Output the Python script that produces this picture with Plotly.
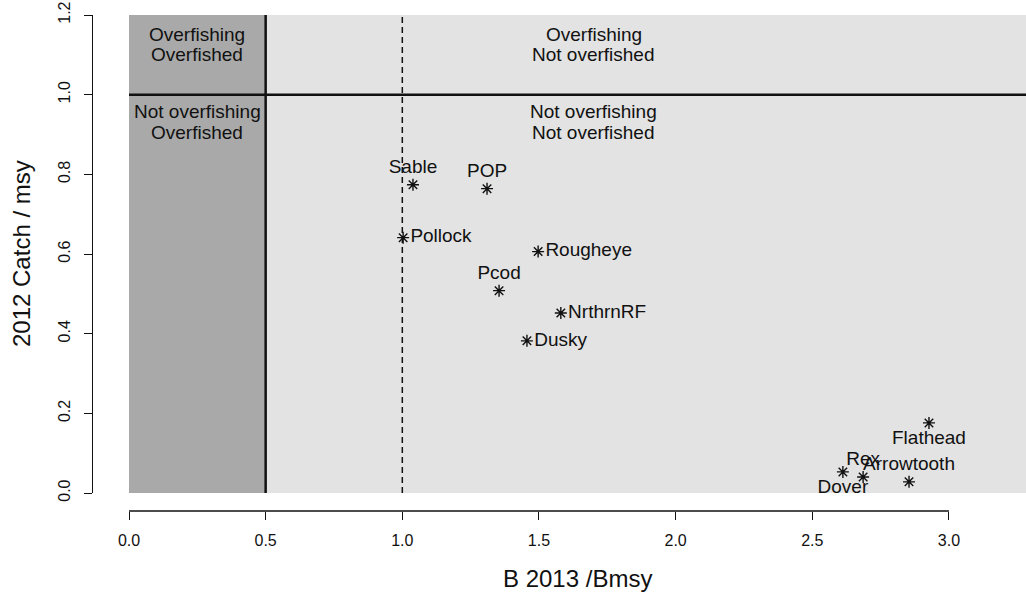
import plotly.graph_objects as go

# ---- data ----
stocks = ["Sable", "POP", "Pollock", "Rougheye", "Pcod", "NrthrnRF", "Dusky",
          "Flathead", "Dover", "Rex", "Arrowtooth"]
b_ratio = [1.039, 1.31, 1.003, 1.497, 1.354, 1.58, 1.456, 2.927, 2.612, 2.686, 2.854]
catch_ratio = [0.774, 0.764, 0.641, 0.606, 0.508, 0.452, 0.382, 0.176, 0.053, 0.040, 0.028]

x_ticks = [0.0, 0.5, 1.0, 1.5, 2.0, 2.5, 3.0]
y_ticks = [0.0, 0.2, 0.4, 0.6, 0.8, 1.0, 1.2]

quadrant_line1 = ["Overfishing", "Overfishing", "Not overfishing", "Not overfishing"]
quadrant_line2 = ["Overfished", "Not overfished", "Overfished", "Not overfished"]

x_title = "B 2013 /Bmsy"
y_title = "2012 Catch / msy"

b_limit = 0.5      # overfished threshold
b_target = 1.0     # Bmsy reference
f_limit = 1.0      # overfishing threshold

# ---- styling ----
label_pos = ["top center", "top center", "middle right", "middle right", "top center",
             "middle right", "middle right", "bottom center", "bottom center",
             "top center", "top center"]
quad_x = [0.25, 1.7, 0.25, 1.7]
quad_y1 = [1.152, 1.152, 0.958, 0.958]
quad_y2 = [1.100, 1.100, 0.905, 0.905]
FONT = "Liberation Sans, Arial, sans-serif"
INK = "#111"
x_max = 3.282
y_max = 1.2

W, H = 1026, 596
ML, MT, MB = 92, 15, 85

fig = go.Figure()

fig.add_trace(go.Scatter(
    x=b_ratio, y=catch_ratio, mode="markers+text",
    text=stocks, textposition=label_pos,
    textfont=dict(family=FONT, size=19, color=INK),
    marker=dict(symbol="asterisk-open", size=10, color=INK,
                line=dict(color=INK, width=1.4)),
    showlegend=False, cliponaxis=False,
))

shapes = [
    dict(type="rect", xref="x", yref="y", x0=0, x1=b_limit, y0=0, y1=y_max,
         fillcolor="#a9a9a9", line=dict(width=0), layer="below"),
    dict(type="rect", xref="x", yref="y", x0=b_limit, x1=x_max, y0=0, y1=y_max,
         fillcolor="#e3e3e3", line=dict(width=0), layer="below"),
    dict(type="line", xref="x", yref="y", x0=b_limit, x1=b_limit, y0=0, y1=y_max,
         line=dict(color=INK, width=2.5)),
    dict(type="line", xref="x", yref="y", x0=0, x1=x_max, y0=f_limit, y1=f_limit,
         line=dict(color=INK, width=2.5)),
    dict(type="line", xref="x", yref="y", x0=b_target, x1=b_target, y0=0, y1=y_max,
         line=dict(color=INK, width=1.5, dash="6px,4px")),
    # R-style x axis line spanning first to last tick
    dict(type="line", xref="x", yref="paper", x0=x_ticks[0], x1=x_ticks[-1], y0=0, y1=0,
         line=dict(color=INK, width=1.3)),
]

annotations = []
for qx, qa, qb, t1, t2 in zip(quad_x, quad_y1, quad_y2, quadrant_line1, quadrant_line2):
    annotations.append(dict(x=qx, y=qa, xref="x", yref="y", text=t1, showarrow=False,
                            font=dict(family=FONT, size=19, color=INK)))
    annotations.append(dict(x=qx, y=qb, xref="x", yref="y", text=t2, showarrow=False,
                            font=dict(family=FONT, size=19, color=INK)))

# axis titles placed R-style
annotations.append(dict(x=0.5, y=-0.137, xref="x domain", yref="paper", text=x_title,
                        showarrow=False, yanchor="middle",
                        font=dict(family=FONT, size=24, color=INK)))
annotations.append(dict(x=-0.076, y=0.5, xref="paper", yref="y domain", text=y_title,
                        showarrow=False, textangle=-90, xanchor="center",
                        font=dict(family=FONT, size=24, color=INK)))

fig.update_layout(
    width=W, height=H,
    margin=dict(l=ML, r=0, t=MT, b=MB),
    paper_bgcolor="white", plot_bgcolor="white",
    shapes=shapes, annotations=annotations,
    xaxis=dict(
        domain=[37 / 934, 1], range=[0, x_max], anchor="free", position=0,
        automargin=False,
        showgrid=False, zeroline=False, showline=False,
        tickmode="array", tickvals=x_ticks, ticktext=[f"{v:.1f}" for v in x_ticks],
        ticks="outside", ticklen=8, tickwidth=1.3, tickcolor=INK,
        ticklabelstandoff=7, ticklabeloverflow="allow",
        tickfont=dict(family=FONT, size=16, color=INK),
    ),
    yaxis=dict(
        domain=[18 / 496, 1], range=[0, y_max], anchor="free", position=0,
        automargin=False,
        showgrid=False, zeroline=False, showline=True, linecolor=INK, linewidth=1.3,
        tickmode="array", tickvals=y_ticks, ticktext=[f"{v:.1f}" for v in y_ticks],
        ticks="outside", ticklen=8, tickwidth=1.3, tickcolor=INK, tickangle=-90,
        ticklabelstandoff=7, ticklabeloverflow="allow",
        tickfont=dict(family=FONT, size=16, color=INK),
    ),
)

# remove the default 8px page margin so the figure fills the window exactly
fig.write_html("out.html",
               config={"displayModeBar": False},
               post_script="document.body.style.margin='0';document.body.style.padding='0';")
